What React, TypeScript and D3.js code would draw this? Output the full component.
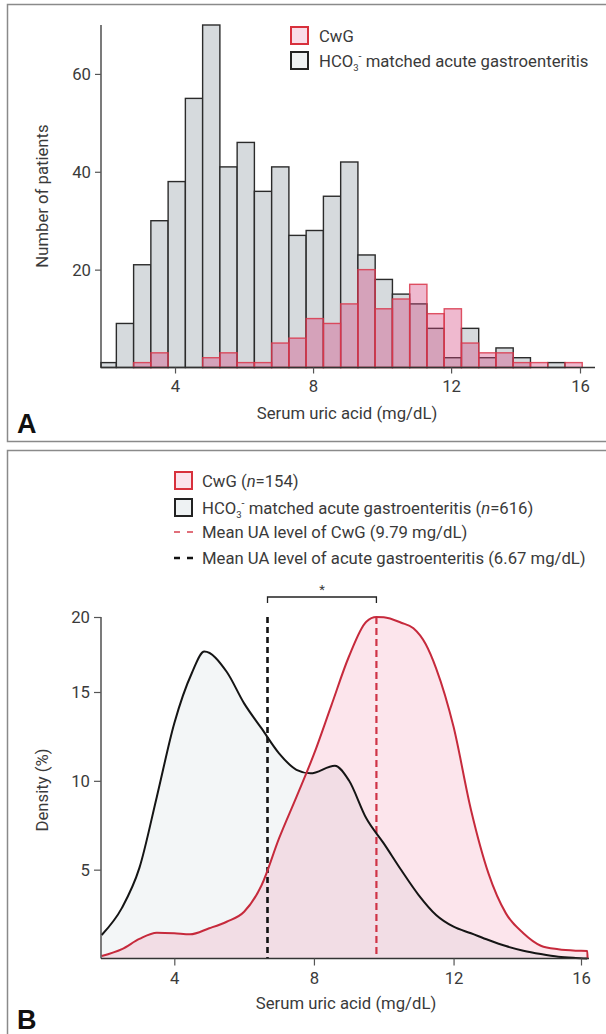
import React, { useEffect, useRef } from 'react';
import * as d3 from 'd3';

// Panel A: histogram of serum uric acid, bins of 0.5 mg/dL (lower edge)
const binStarts = [1.8, 2.3, 2.8, 3.3, 3.8, 4.3, 4.8, 5.3, 5.8, 6.3, 6.8, 7.3, 7.8, 8.3, 8.8, 9.3, 9.8, 10.3, 10.8, 11.3, 11.8, 12.3, 12.8, 13.3, 13.8, 14.3, 14.8, 15.3];
const binWidth = 0.5;
const gastroCounts = [1, 9, 21, 30, 38, 55, 70, 41, 46, 36, 41, 27, 28, 35, 42, 23, 18, 15, 13, 8, 2, 8, 2, 4, 2, 0, 1, 0];
const cwgCounts = [0, 0, 1, 3, 0, 0, 2, 3, 1, 1, 5, 6, 10, 9, 13, 20, 12, 14, 17, 11, 12, 5, 3, 3, 1, 1, 0, 1];

const xTicks = [4, 8, 12, 16];
const yTicksA = [20, 40, 60];
const yTicksB = [5, 10, 15, 20];

// Panel B: density curves (%)
const gastroX = [1.92, 2.5, 3, 3.5, 4, 4.5, 4.86, 5.5, 6, 6.5, 7, 7.5, 7.9, 8.6, 9, 9.5, 10, 10.5, 11, 11.5, 12, 12.5, 13, 13.5, 14, 14.5, 15, 15.5, 15.83];
const gastroD = [1.32, 2.85, 5.1, 9.11, 13.24, 16.25, 17.7, 16.35, 14.36, 12.95, 11.55, 10.62, 10.42, 10.85, 10.03, 7.89, 6.48, 4.98, 3.57, 2.45, 1.79, 1.42, 1.04, 0.7, 0.44, 0.25, 0.1, 0.03, 0];
const cwgX = [1.92, 2.5, 3, 3.5, 4, 4.45, 5, 5.5, 6, 6.5, 7, 7.5, 8, 8.5, 9, 9.5, 9.79, 10, 10.5, 10.85, 11.2, 11.5, 12, 12.5, 13, 13.5, 14, 14.5, 15, 15.5, 15.83, 15.84];
const cwgD = [0.14, 0.53, 1.1, 1.45, 1.42, 1.36, 1.7, 2.07, 2.63, 4.12, 6.76, 9.1, 11.5, 14.25, 17.35, 19.69, 20, 19.98, 19.62, 19.25, 18.2, 16.58, 13.04, 8.36, 4.79, 2.54, 1.42, 0.72, 0.52, 0.44, 0.42, 0];

const meanCwG = 9.79;
const meanGastro = 6.67;

const FONT = "Roboto, 'Noto Sans', sans-serif";
const FS = '16.7px';
const TEXT = '#3a3a3a';

export default function App() {
  const ref = useRef<SVGSVGElement>(null);

  useEffect(() => {
    if (!ref.current) return;
    const svg = d3.select(ref.current);
    svg.selectAll('*').remove();

    // panel frames
    svg.append('rect').attr('x', 7.5).attr('y', 4.5).attr('width', 620).attr('height', 437)
      .attr('fill', 'none').attr('stroke', '#8a8a8a').attr('stroke-width', 1.5);
    svg.append('rect').attr('x', 7.5).attr('y', 450.5).attr('width', 620).attr('height', 620)
      .attr('fill', 'none').attr('stroke', '#8a8a8a').attr('stroke-width', 1.5);

    const styleAxis = (g: d3.Selection<SVGGElement, unknown, null, undefined>) => {
      g.select('.domain').remove();
      g.selectAll('.tick line').attr('stroke', '#555').attr('stroke-width', 1.2);
      g.selectAll('.tick text').attr('fill', TEXT).style('font-size', FS).style('font-family', FONT);
    };

    // ---------- Panel A ----------
    const xA = d3.scaleLinear().domain([1.855, 16.17]).range([101, 595]);
    const xTickA = d3.scaleLinear().domain([1.855, 12, 16, 16.17]).range([101, xA(12), 580, 595]);
    const yA = d3.scaleLinear().domain([0, 70]).range([367.5, 25]);
    const gA = svg.append('g');

    const barsOf = (counts: number[]) => counts
      .map((c, i) => ({ c, x0: Math.max(binStarts[i], xA.domain()[0]), x1: binStarts[i] + binWidth }))
      .filter(d => d.c > 0);

    gA.selectAll('rect.gastro').data(barsOf(gastroCounts)).enter().append('rect')
      .attr('x', d => xA(d.x0)).attr('width', d => xA(d.x1) - xA(d.x0))
      .attr('y', d => yA(d.c)).attr('height', d => yA(0) - yA(d.c))
      .attr('fill', '#d6dadd').attr('stroke', '#2b2b2b').attr('stroke-width', 1.4);

    gA.selectAll('rect.cwg').data(barsOf(cwgCounts)).enter().append('rect')
      .attr('x', d => xA(d.x0)).attr('width', d => xA(d.x1) - xA(d.x0))
      .attr('y', d => yA(d.c)).attr('height', d => yA(0) - yA(d.c))
      .attr('fill', 'rgb(214,70,130)').attr('fill-opacity', 0.38)
      .attr('stroke', '#d9364a').attr('stroke-opacity', 0.85).attr('stroke-width', 1.4);

    gA.append('line').attr('x1', 101).attr('x2', 595).attr('y1', yA(0)).attr('y2', yA(0))
      .attr('stroke', '#333').attr('stroke-width', 1.3);
    gA.append('line').attr('x1', 101).attr('x2', 101).attr('y1', yA(70)).attr('y2', yA(0))
      .attr('stroke', '#333').attr('stroke-width', 1.3);

    gA.append('g').attr('transform', `translate(0,${yA(0)})`)
      .call(d3.axisBottom(xTickA).tickValues(xTicks).tickSize(6).tickPadding(7).tickFormat(d3.format('d')))
      .call(styleAxis);
    gA.append('g').attr('transform', 'translate(101,0)')
      .call(d3.axisLeft(yA).tickValues(yTicksA).tickSize(6).tickPadding(4).tickFormat(d3.format('d')))
      .call(styleAxis);

    gA.append('text').attr('transform', 'translate(48,196) rotate(-90)').attr('text-anchor', 'middle')
      .attr('fill', TEXT).style('font-size', FS).style('font-family', FONT).text('Number of patients');
    gA.append('text').attr('x', 347).attr('y', 419).attr('text-anchor', 'middle')
      .attr('fill', TEXT).style('font-size', FS).style('font-family', FONT).text('Serum uric acid (mg/dL)');
    gA.append('text').attr('x', 17).attr('y', 433).attr('fill', '#111')
      .style('font-size', '27px').style('font-weight', 'bold').style('font-family', "'Liberation Sans', Arial, sans-serif").text('A');

    const hco3 = (g: d3.Selection<SVGGElement, unknown, null, undefined>, x: number, y: number, rest: string, n?: string) => {
      const t = g.append('text').attr('x', x).attr('y', y).attr('fill', TEXT)
        .style('font-size', FS).style('font-family', FONT);
      t.append('tspan').text('HCO');
      t.append('tspan').attr('dy', 4).style('font-size', '9.5px').text('3');
      t.append('tspan').attr('dy', -11).style('font-size', '10.5px').text('-');
      t.append('tspan').attr('dy', 7).text(rest);
      if (n) {
        t.append('tspan').style('font-style', 'italic').text('n');
        t.append('tspan').text(n);
      }
    };

    // legend A
    const legA = svg.append('g');
    legA.append('rect').attr('x', 291).attr('y', 27).attr('width', 17).attr('height', 17)
      .attr('fill', '#f9dde8').attr('stroke', '#d8303c').attr('stroke-width', 2);
    legA.append('rect').attr('x', 291).attr('y', 52).attr('width', 17).attr('height', 17)
      .attr('fill', '#eef1f2').attr('stroke', '#222').attr('stroke-width', 2);
    legA.append('text').attr('x', 319).attr('y', 42).attr('fill', TEXT)
      .style('font-size', FS).style('font-family', FONT).text('CwG');
    hco3(legA, 319, 67, ' matched acute gastroenteritis');

    // ---------- Panel B ----------
    const xB = d3.scaleLinear().domain([1.9, 15.88]).range([101, 589]);
    const xTickB = d3.scaleLinear().domain([1.9, 12, 16]).range([101, xB(12), 581]);
    const yB = d3.scaleLinear().domain([0, 15, 20]).range([958.5, 692, 617]);
    const gB = svg.append('g');

    const gastroPts: [number, number][] = gastroX.map((x, i) => [x, gastroD[i]]);
    const cwgPts: [number, number][] = cwgX.map((x, i) => [x, cwgD[i]]);

    const area = d3.area<[number, number]>().x(d => xB(d[0])).y0(yB(0)).y1(d => yB(d[1])).curve(d3.curveMonotoneX);
    const line = d3.line<[number, number]>().x(d => xB(d[0])).y(d => yB(d[1])).curve(d3.curveMonotoneX);

    gB.append('path').datum(gastroPts).attr('d', area).attr('fill', '#f3f6f7');
    gB.append('path').datum(cwgPts).attr('d', area).attr('fill', 'rgb(240,110,150)').attr('fill-opacity', 0.18);

    // mean lines
    gB.append('line').attr('x1', xB(meanGastro)).attr('x2', xB(meanGastro)).attr('y1', yB(20)).attr('y2', yB(0))
      .attr('stroke', '#111').attr('stroke-width', 2.6).attr('stroke-dasharray', '6,4');
    gB.append('line').attr('x1', xB(meanCwG)).attr('x2', xB(meanCwG)).attr('y1', yB(20)).attr('y2', yB(0))
      .attr('stroke', '#cf3346').attr('stroke-width', 2.2).attr('stroke-dasharray', '7,4');

    gB.append('path').datum(gastroPts).attr('d', line).attr('fill', 'none').attr('stroke', '#151515').attr('stroke-width', 2);
    gB.append('path').datum(cwgPts).attr('d', line).attr('fill', 'none').attr('stroke', '#c62a3c').attr('stroke-width', 2);

    gB.append('line').attr('x1', 101).attr('x2', 589).attr('y1', yB(0)).attr('y2', yB(0))
      .attr('stroke', '#333').attr('stroke-width', 1.3);
    gB.append('line').attr('x1', 101).attr('x2', 101).attr('y1', yB(20)).attr('y2', yB(0))
      .attr('stroke', '#333').attr('stroke-width', 1.3);

    gB.append('g').attr('transform', `translate(0,${yB(0)})`)
      .call(d3.axisBottom(xTickB).tickValues(xTicks).tickSize(7).tickPadding(7).tickFormat(d3.format('d')))
      .call(styleAxis);
    gB.append('g').attr('transform', 'translate(101,0)')
      .call(d3.axisLeft(yB).tickValues(yTicksB).tickSize(7).tickPadding(4).tickFormat(d3.format('d')))
      .call(styleAxis);

    // significance bracket
    const bx0 = xB(meanGastro), bx1 = xB(meanCwG);
    gB.append('path').attr('d', `M${bx0},603V597H${bx1}V603`).attr('fill', 'none')
      .attr('stroke', '#222').attr('stroke-width', 1.3);
    gB.append('text').attr('x', (bx0 + bx1) / 2).attr('y', 594).attr('text-anchor', 'middle')
      .attr('fill', TEXT).style('font-size', '13px').style('font-family', FONT).text('*');

    gB.append('text').attr('transform', 'translate(48,790) rotate(-90)').attr('text-anchor', 'middle')
      .attr('fill', TEXT).style('font-size', FS).style('font-family', FONT).text('Density (%)');
    gB.append('text').attr('x', 346).attr('y', 1009).attr('text-anchor', 'middle')
      .attr('fill', TEXT).style('font-size', FS).style('font-family', FONT).text('Serum uric acid (mg/dL)');
    gB.append('text').attr('x', 17).attr('y', 1029).attr('fill', '#111')
      .style('font-size', '27px').style('font-weight', 'bold').style('font-family', "'Liberation Sans', Arial, sans-serif").text('B');

    // legend B
    const legB = svg.append('g');
    legB.append('rect').attr('x', 175).attr('y', 472).attr('width', 17).attr('height', 17)
      .attr('fill', '#fbe3ec').attr('stroke', '#d8303c').attr('stroke-width', 2);
    legB.append('rect').attr('x', 175).attr('y', 499).attr('width', 17).attr('height', 17)
      .attr('fill', '#eef2f3').attr('stroke', '#222').attr('stroke-width', 2);
    legB.append('line').attr('x1', 174).attr('x2', 193).attr('y1', 532).attr('y2', 532)
      .attr('stroke', '#d8404f').attr('stroke-width', 1.5).attr('stroke-dasharray', '6,7');
    legB.append('line').attr('x1', 174).attr('x2', 193).attr('y1', 558).attr('y2', 558)
      .attr('stroke', '#111').attr('stroke-width', 2.4).attr('stroke-dasharray', '6,7');

    const t1 = legB.append('text').attr('x', 202).attr('y', 487).attr('fill', TEXT)
      .style('font-size', FS).style('font-family', FONT);
    t1.append('tspan').text('CwG (');
    t1.append('tspan').style('font-style', 'italic').text('n');
    t1.append('tspan').text('=154)');
    hco3(legB, 202, 514, ' matched acute gastroenteritis (', '=616)');
    legB.append('text').attr('x', 202).attr('y', 538).attr('fill', TEXT)
      .style('font-size', FS).style('font-family', FONT).text('Mean UA level of CwG (9.79 mg/dL)');
    legB.append('text').attr('x', 202).attr('y', 564).attr('fill', TEXT)
      .style('font-size', FS).style('font-family', FONT).text('Mean UA level of acute gastroenteritis (6.67 mg/dL)');
  }, []);

  return (
    <svg
      ref={ref}
      width={606}
      height={1034}
      style={{ position: 'absolute', left: 0, top: 0, background: '#fff' }}
    />
  );
}
